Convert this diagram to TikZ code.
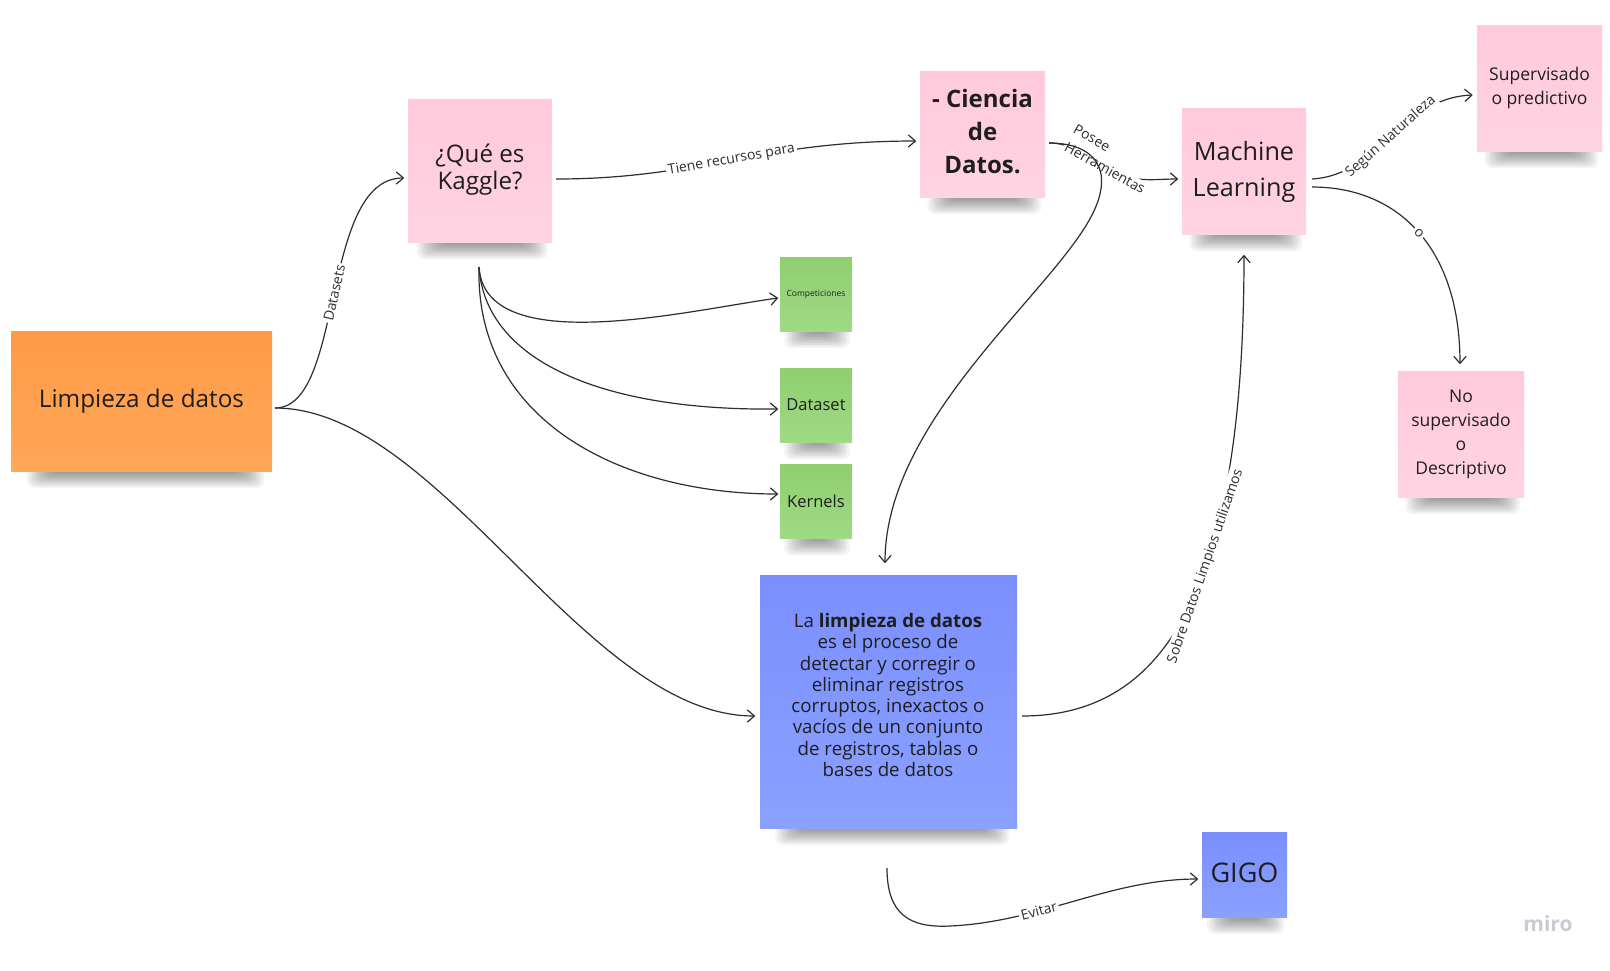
\documentclass[tikz,border=0pt]{standalone}
\usepackage{fontspec}
\setmainfont{Open Sans}
\usetikzlibrary{arrows.meta}
\definecolor{pinkA}{HTML}{FFC9DA}
\definecolor{pinkB}{HTML}{FFD4E2}
\definecolor{orA}{HTML}{FF9A46}
\definecolor{orB}{HTML}{FFA858}
\definecolor{grA}{HTML}{8ECF6E}
\definecolor{grB}{HTML}{A1D986}
\definecolor{blA}{HTML}{7A8FFE}
\definecolor{blB}{HTML}{8BA1FF}
\definecolor{ink}{HTML}{1E1E1E}
\definecolor{linec}{HTML}{2E2E2E}
\definecolor{mirogray}{HTML}{C9CAD4}

\tikzset{
  notebase/.style={anchor=north west, inner sep=0pt, outer sep=0pt, align=center, text=ink},
  pinknote/.style={notebase, top color=pinkA, bottom color=pinkB},
  orangenote/.style={notebase, top color=orA, bottom color=orB},
  greennote/.style={notebase, top color=grA, bottom color=grB},
  bluenote/.style={notebase, top color=blA, bottom color=blB},
  conn/.style={draw=linec, line width=1.2pt, -{Straight Barb[length=7pt,width=12pt,round]}},
  lbl/.style={fill=white, inner sep=2pt, text=linec, font=\fontsize{14}{17}\selectfont},
}

\newcommand\stickynote[7]{%
  \foreach \k in {0,...,9}{%
    \fill[black, opacity=0.045, rounded corners=7pt]
      ({#2+0.06*(#4-#2)+2.5*\k},{#5-10}) rectangle ({#4-0.03*(#4-#2)-2.5*\k},{#5+17-1.6*\k});
  }
  \node[#6, minimum width={(#4-#2)*1pt}, minimum height={(#5-#3)*1pt}] (#1) at (#2,#3) {#7};
}

\begin{document}
\begin{tikzpicture}[x=1pt,y=-1pt]
\fill[white] (0,0) rectangle (1610,970);
\useasboundingbox (0,0) rectangle (1610,970);

% notes
\stickynote{limp}{11}{331}{272}{471}{orangenote,font=\fontsize{24.3}{29}\selectfont}{\raisebox{5pt}{Limpieza de datos}}
\stickynote{kaggle}{408}{99}{552}{242}{pinknote,font=\fontsize{24.2}{28}\selectfont}{\raisebox{3pt}{\begin{tabular}{@{}c@{}}¿Qué es\\[-0.4pt]Kaggle?\end{tabular}}}
\stickynote{ciencia}{920}{71}{1045}{197}{pinknote,font=\fontsize{24}{32}\selectfont\bfseries}{\raisebox{3pt}{\begin{tabular}{@{}c@{}}- Ciencia\\[0.7pt]de\\[0.7pt]Datos.\end{tabular}}}
\stickynote{ml}{1182}{108}{1306}{234}{pinknote,font=\fontsize{25.2}{35}\selectfont}{\raisebox{1.5pt}{\begin{tabular}{@{}c@{}}Machine\\[1pt]Learning\end{tabular}}}
\stickynote{sup}{1477}{25}{1602}{151}{pinknote,font=\fontsize{17.5}{24}\selectfont}{\raisebox{2pt}{\begin{tabular}{@{}c@{}}Supervisado\\o predictivo\end{tabular}}}
\stickynote{nosup}{1398}{371}{1524}{497}{pinknote,font=\fontsize{17.5}{24}\selectfont}{\raisebox{2pt}{\begin{tabular}{@{}c@{}}No\\supervisado\\o\\Descriptivo\end{tabular}}}
\stickynote{comp}{780}{257}{852}{331}{greennote,font=\fontsize{8.5}{10}\selectfont}{Competiciones}
\stickynote{dataset}{780}{368}{852}{442}{greennote,font=\fontsize{16.5}{19}\selectfont}{Dataset}
\stickynote{kernels}{780}{464}{852}{538}{greennote,font=\fontsize{16.5}{19}\selectfont}{Kernels}
\stickynote{blue}{760}{575}{1017}{828}{bluenote}{}
\stickynote{gigo}{1202}{832}{1287}{917}{bluenote,font=\fontsize{27}{32}\selectfont}{\raisebox{4pt}{GIGO}}

\node[text=ink, align=center, font=\fontsize{18.7}{21.3}\selectfont] (bluetext) at (888,695)
  {La \textbf{limpieza de datos}\\es el proceso de\\detectar y corregir o\\eliminar registros\\corruptos, inexactos o\\vacíos de un conjunto\\de registros, tablas o\\bases de datos};

% connectors
\draw[conn] ([shift={(3,7)}]limp.east) .. controls +(70,0) and +(-84,0) .. ([shift={(-4,7.5)}]kaggle.west)
  node[lbl, pos=0.5, sloped] {Datasets};
\draw[conn] ([shift={(3,7)}]limp.east) .. controls +(165,0) and +(-170,0) .. ([shift={(-5,14.5)}]blue.west);

\draw[conn] ([shift={(4,8.5)}]kaggle.east) .. controls +(144,0) and +(-156,0) .. ([shift={(-4,7)}]ciencia.west)
  node[lbl, pos=0.5, sloped] {Tiene recursos para};

\draw[conn] ([shift={(-1,25)}]kaggle.south) .. controls +(6,93) and +(-88,12) .. ([shift={(-2,4)}]comp.west);
\draw[conn] ([shift={(-1,25)}]kaggle.south) .. controls +(6,93) and +(-178,2) .. ([shift={(-2,4)}]dataset.west);
\draw[conn] ([shift={(-1,25)}]kaggle.south) .. controls +(-4,153) and +(-158,0) .. ([shift={(-2,-7)}]kernels.west);

\draw[conn] ([shift={(4,9)}]ciencia.east) .. controls +(20,0) and (1080,152) .. (1105,167)
  .. controls (1135,184) and (1150,179) .. ([shift={(-4,8)}]ml.west);
\node[lbl, rotate=-29] (posee) at (1092,138) {Posee};
\node[lbl, rotate=-29] (herr) at (1105,168) {Herramientas};

\draw[conn] ([shift={(4,9)}]ciencia.east) .. controls (1095,143) and (1115,170) .. (1092,215)
  .. controls (1052,293) and (885,420) .. ([shift={(-3.5,-12)}]blue.north);

\draw[conn] ([shift={(6,8)}]ml.east) .. controls +(68,-4) and +(-72,3) .. ([shift={(-4.5,7)}]sup.west)
  node[lbl, pos=0.5, sloped] {Según Naturaleza};
\draw[conn] ([shift={(6,16)}]ml.east) .. controls +(88,0) and +(0,-114) .. ([shift={(-1,-7)}]nosup.north)
  node[lbl, pos=0.5, sloped] {o};

\draw[conn] ([shift={(5,14.5)}]blue.east) .. controls +(138,0) and +(0,345) .. ([shift={(0,21)}]ml.south)
  node[lbl, pos=0.6, sloped] {Sobre Datos Limpios utilizamos};

\draw[conn] ([shift={(-1.5,40)}]blue.south) .. controls (887,915) and (910,928) .. (950,926)
  .. controls (1040,922) and (1110,879) .. ([shift={(-4,4.5)}]gigo.west)
  node[lbl, pos=0.35, sloped] {Evitar};

% logo
\node[text=mirogray, font=\fontsize{21}{24}\selectfont\bfseries] (miro) at (1548,924) {miro};
\end{tikzpicture}
\end{document}
